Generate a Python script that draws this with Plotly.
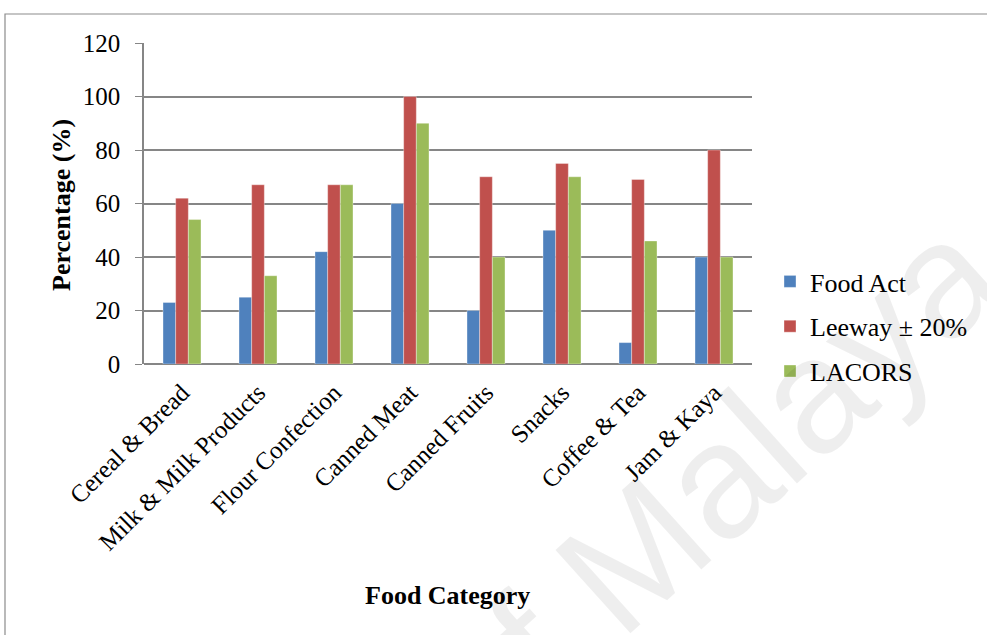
import plotly.graph_objects as go

categories = ["Cereal & Bread", "Milk & Milk Products", "Flour Confection", "Canned Meat",
              "Canned Fruits", "Snacks", "Coffee & Tea", "Jam & Kaya"]
food_act = [23, 25, 42, 60, 20, 50, 8, 40]
leeway = [62, 67, 67, 100, 70, 75, 69, 80]
lacors = [54, 33, 67, 90, 40, 70, 46, 40]
y_ticks = [0, 20, 40, 60, 80, 100, 120]

series_names = ["Food Act", "Leeway ± 20%", "LACORS"]
series_colors = ["#4F81BD", "#C0504D", "#9BBB59"]

W, H = 987, 635
L, R, T, B = 144, 752, 43, 364  # plot area edges in pixels

def px(x):
    return (x - L) / (R - L)

def py(y):
    return (B - y) / (B - T)

serif = "Liberation Serif"
grid = "#868686"

fig = go.Figure()
for name, vals, col in zip(series_names, [food_act, leeway, lacors], series_colors):
    fig.add_trace(go.Bar(x=categories, y=vals, name=name, legendgroup=name,
                         marker=dict(color=col, line=dict(color="rgba(255,255,255,0.6)", width=0.6))))

fig.update_layout(
    width=W, height=H,
    margin=dict(l=L, r=W - R, t=T, b=H - B),
    paper_bgcolor="white", plot_bgcolor="white",
    barmode="group", bargap=0.5, bargroupgap=0,
    font=dict(family=serif, color="black"),
    showlegend=True,
    legend=dict(x=px(770), y=py(258), xanchor="left", yanchor="top",
                font=dict(size=26, family=serif, color="black"), tracegroupgap=8,
                itemwidth=30, bgcolor="rgba(0,0,0,0)", borderwidth=0),
    xaxis=dict(tickangle=-45, tickfont=dict(size=25, family=serif),
               showline=False, showgrid=False, ticks="", ticklabelstandoff=8,
               automargin=False),
    yaxis=dict(range=[0, 120], tickvals=y_ticks, tickfont=dict(size=25, family=serif),
               showgrid=True, gridcolor=grid, gridwidth=1.5,
               zeroline=True, zerolinecolor=grid, zerolinewidth=1.5,
               showline=True, linecolor=grid, linewidth=1.5,
               ticks="outside", ticklen=7, tickcolor=grid, ticklabelstandoff=10,
               automargin=False),
)

# chart frame
fig.add_shape(type="rect", xref="paper", yref="paper",
              x0=px(5), x1=px(1000), y0=py(645), y1=py(14),
              line=dict(color="#8c8c8c", width=1.2), fillcolor="rgba(0,0,0,0)", layer="below")

# axis titles
fig.add_annotation(text="<b>Percentage (%)</b>", xref="paper", yref="paper",
                   x=px(61), y=py(205), textangle=-90, showarrow=False,
                   xanchor="center", yanchor="middle",
                   font=dict(size=26, family=serif, color="black"))
fig.add_annotation(text="<b>Food Category</b>", xref="paper", yref="paper",
                   x=px(447), y=py(595), showarrow=False,
                   xanchor="center", yanchor="middle",
                   font=dict(size=26, family=serif, color="black"))

# watermark
fig.add_annotation(text="of Malaya", xref="paper", yref="paper",
                   x=px(710), y=py(485), textangle=-42, showarrow=False,
                   xanchor="center", yanchor="middle",
                   font=dict(size=163, family="Liberation Sans",
                             color="rgba(0,0,0,0.065)"))

fig.write_html("out.html")
